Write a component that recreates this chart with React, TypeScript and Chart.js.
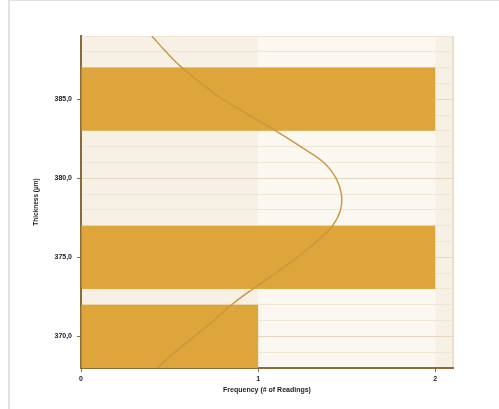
import React, { useEffect, useRef } from "react";
import { Chart, registerables } from "chart.js";

Chart.register(...registerables);

// Histogram bins (bin centres, µm) and their counts
const binCentres = [370, 375, 380, 385];
const frequencies = [1, 2, 0, 2];

// Fitted distribution curve
const curveThickness = [368, 369, 370, 371, 372, 373, 374, 375, 376, 377, 378, 379, 380, 381, 382, 383, 384, 385, 386, 387, 388, 389];
const curveFrequency = [0.43, 0.53, 0.64, 0.75, 0.85, 0.97, 1.1, 1.22, 1.33, 1.42, 1.465, 1.47, 1.44, 1.37, 1.24, 1.1, 0.95, 0.8, 0.68, 0.57, 0.48, 0.4];

// Tick values
const yTickValues = [370, 375, 380, 385];
const xTickValues = [0, 1, 2];

const xTitle = "Frequency (# of Readings)";
const yTitle = "Thickness (µm)";

const Y_MIN = 368;
const Y_MAX = 389;
const X_MAX = 2.1;

const AXIS = "#8a6c38";
const BAR = "#dea53b";
const CURVE = "#c9963f";
const BAND_DARK = "#f7f0e4";
const BAND_LIGHT = "#fbf8f2";
const FONT = { family: "'Liberation Sans', Arial, sans-serif", size: 7, weight: "bold" as const };

const bandsPlugin = {
  id: "bands",
  beforeDraw(chart: any) {
    const { ctx, chartArea: a, scales } = chart;
    const xs = scales.x;
    ctx.save();
    ctx.fillStyle = BAND_LIGHT;
    ctx.fillRect(a.left, a.top, a.right - a.left, a.bottom - a.top);
    const edges: number[] = [];
    for (let v = xs.min; v < xs.max; v += 1) edges.push(v);
    edges.forEach((v, i) => {
      const x0 = xs.getPixelForValue(v);
      const x1 = xs.getPixelForValue(Math.min(v + 1, xs.max));
      ctx.fillStyle = i % 2 === 0 ? BAND_DARK : BAND_LIGHT;
      ctx.fillRect(x0, a.top, x1 - x0, a.bottom - a.top);
    });
    ctx.strokeStyle = "#eadfc8";
    ctx.lineWidth = 2;
    ctx.beginPath();
    ctx.moveTo(a.right, a.top);
    ctx.lineTo(a.right, a.bottom);
    ctx.stroke();
    ctx.restore();
  },
};

export default function App() {
  const ref = useRef<HTMLCanvasElement>(null);

  useEffect(() => {
    if (!ref.current) return;
    const chart = new Chart(ref.current, {
      type: "bar",
      data: {
        datasets: [
          {
            type: "line",
            yAxisID: "y2",
            data: curveThickness.map((t, i) => ({ x: curveFrequency[i], y: t })),
            borderColor: CURVE,
            borderWidth: 1.4,
            pointRadius: 0,
            tension: 0.4,
            fill: false,
            order: 0,
          } as any,
          {
            type: "bar",
            yAxisID: "y",
            data: binCentres.map((c, i) => ({ x: frequencies[i], y: c })),
            backgroundColor: BAR,
            borderWidth: 0,
            barPercentage: 1,
            categoryPercentage: 0.8,
            grouped: false,
            order: 1,
          } as any,
        ],
      },
      options: {
        indexAxis: "y",
        animation: false,
        responsive: false,
        layout: { padding: { top: 35, right: 37, bottom: 0, left: 0 } },
        plugins: { legend: { display: false }, tooltip: { enabled: false } },
        scales: {
          x: {
            type: "linear",
            min: 0,
            max: X_MAX,
            afterBuildTicks: (s: any) => {
              s.ticks = xTickValues.map((v) => ({ value: v }));
            },
            afterFit: (s: any) => {
              s.height = 41;
            },
            ticks: { autoSkip: false, color: "#222", font: FONT, padding: 3, callback: (v: any) => String(v) },
            grid: { offset: false, drawOnChartArea: false, drawTicks: true, tickLength: 4, tickColor: AXIS },
            border: { display: true, color: AXIS, width: 2 },
            title: { display: true, text: xTitle, color: "#222", font: FONT, padding: { top: 0, bottom: 15 } },
          },
          y: {
            type: "linear",
            position: "left",
            min: Y_MIN,
            max: Y_MAX,
            offset: false,
            afterBuildTicks: (s: any) => {
              s.ticks = yTickValues.map((v) => ({ value: v }));
            },
            afterFit: (s: any) => {
              s.width = 71;
            },
            ticks: {
              autoSkip: false,
              color: "#222",
              font: FONT,
              padding: 5,
              callback: (v: any) => Number(v).toFixed(1).replace(".", ","),
            },
            grid: {
              offset: false,
              drawOnChartArea: false,
              drawTicks: true,
              tickLength: 4,
              tickColor: AXIS,
            },
            border: { display: true, color: AXIS, width: 2 },
            title: { display: true, text: yTitle, color: "#222", font: { ...FONT, size: 6.5 }, padding: { top: 22, bottom: 0 } },
          },
          y2: {
            type: "linear",
            position: "left",
            min: Y_MIN,
            max: Y_MAX,
            offset: false,
            afterFit: (s: any) => {
              s.width = 0;
            },
            ticks: { stepSize: 1, display: false, autoSkip: false },
            grid: {
              offset: false,
              drawOnChartArea: true,
              drawTicks: false,
              color: (c: any) => (c.tick && c.tick.value % 5 === 0 ? "#e4d7bd" : "#efe6d5"),
            },
            border: { display: false },
          },
        },
      },
      plugins: [bandsPlugin],
    } as any);
    return () => chart.destroy();
  }, []);

  return (
    <div
      style={{
        position: "absolute",
        left: 8,
        top: 0,
        width: 491,
        height: 409,
        borderTop: "1px solid #e2e2e2",
        borderLeft: "2px solid #e2e2e2",
        background: "#fff",
        boxSizing: "border-box",
        overflow: "hidden",
      }}
    >
      <canvas ref={ref} width={480} height={408} style={{ position: "absolute", left: 0, top: 0 }} />
    </div>
  );
}
